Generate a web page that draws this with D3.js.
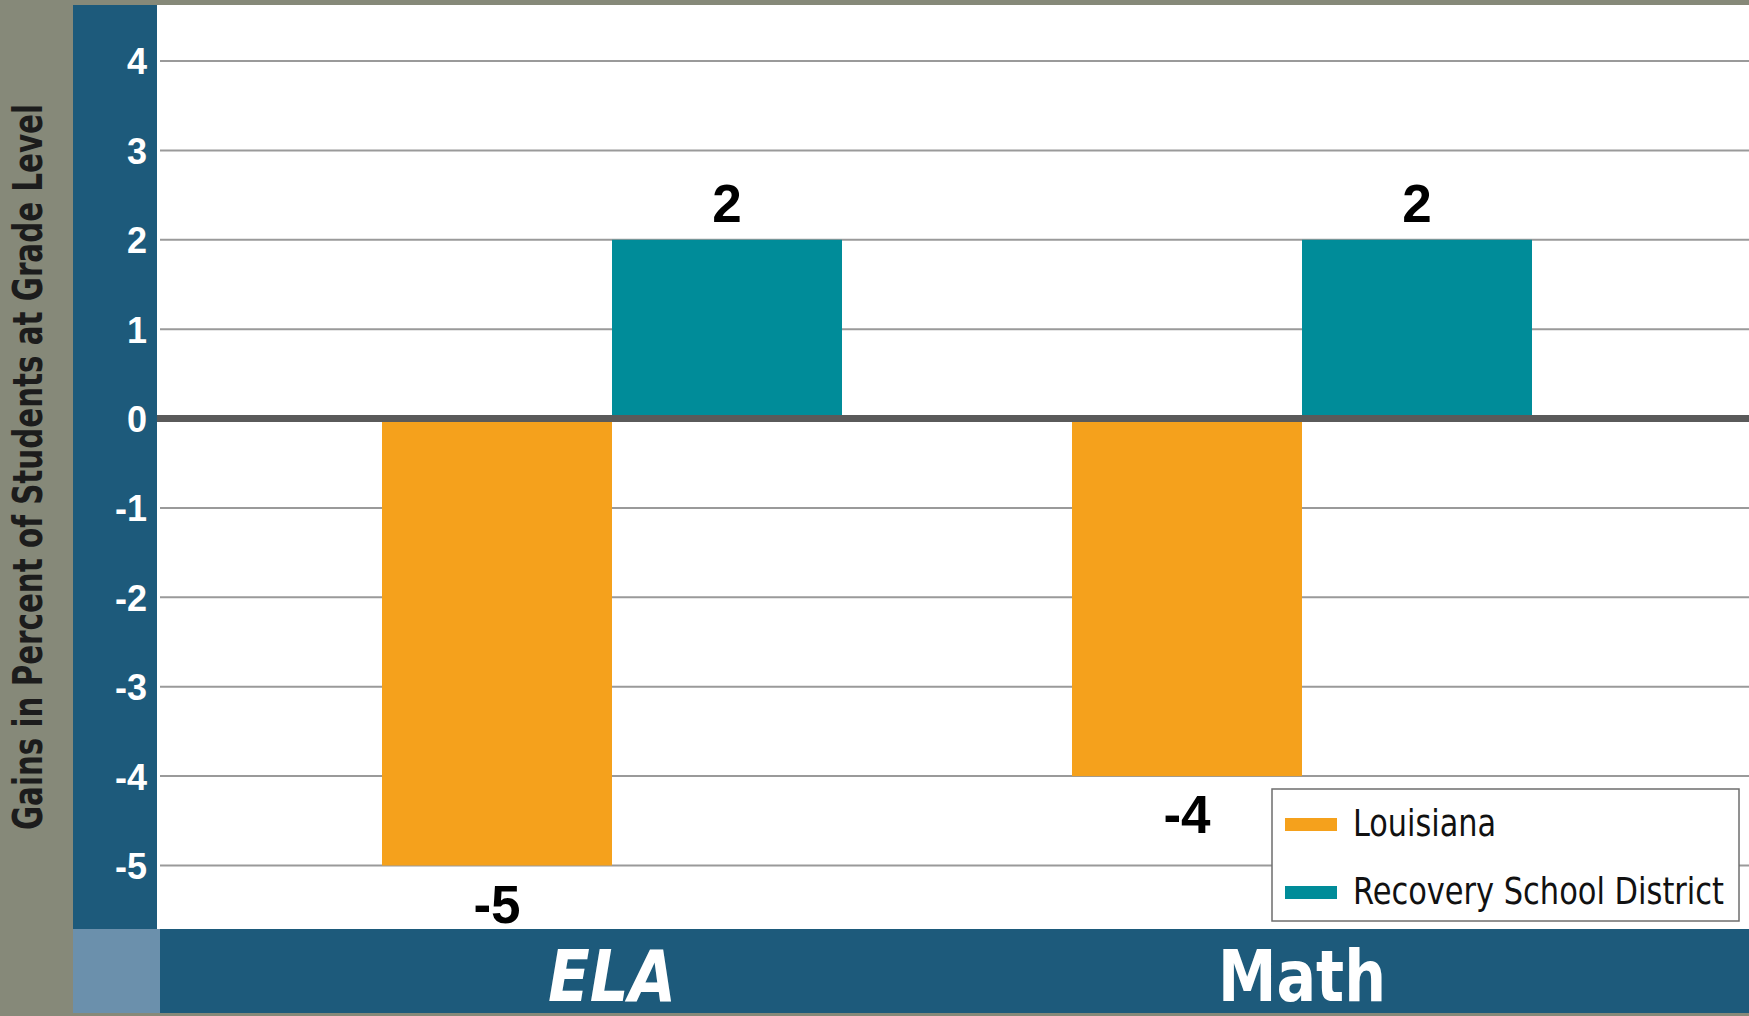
<!DOCTYPE html>
<html>
<head>
<meta charset="utf-8">
<script src="https://cdn.jsdelivr.net/npm/d3@7"></script>
<style>
  html, body { margin: 0; padding: 0; background: #868979; }
  svg { display: block; }
</style>
</head>
<body>
<div class="chart"></div>
<script>
var categories = ["ELA", "Math"]
var seriesNames = ["Louisiana", "Recovery School District"]
var louisiana = [-5, -4]
var rsd = [2, 2]
var yTicks = [-5, -4, -3, -2, -1, 0, 1, 2, 3, 4]
var colors = ["#f5a11c", "#008c99"]

var W = 1749, H = 1016
var condensed = "'Liberation Sans Narrow', 'Arial Narrow', 'DejaVu Sans Condensed', sans-serif"
var sans = "'Liberation Sans', Arial, sans-serif"

var svg = d3.select('.chart')
    .append('svg')
    .attr('width', W)
    .attr('height', H)

// background panels
svg.append('rect').attr('x', 0).attr('y', 0).attr('width', W).attr('height', H).attr('fill', '#868979')
svg.append('rect').attr('x', 157).attr('y', 5).attr('width', W - 157).attr('height', 924).attr('fill', '#ffffff')
svg.append('rect').attr('x', 73).attr('y', 5).attr('width', 84).attr('height', 924).attr('fill', '#1d5a7b')
svg.append('rect').attr('x', 73).attr('y', 929).attr('width', 87).attr('height', 84).attr('fill', '#6b90ac')
svg.append('rect').attr('x', 160).attr('y', 929).attr('width', W - 160).attr('height', 84).attr('fill', '#1d5a7b')

var y = d3.scaleLinear().domain([-5, 4]).range([865.5, 61])
var x = d3.scaleBand().domain(categories).range([267, 1647]).paddingInner(1 / 3).paddingOuter(1 / 6)
var xs = d3.scaleBand().domain(seriesNames).range([0, x.bandwidth()])

// gridlines
svg.append('g')
    .selectAll('line')
    .data(yTicks.filter(d => d !== 0))
    .enter()
    .append('line')
    .attr('x1', 160).attr('x2', W)
    .attr('y1', d => y(d)).attr('y2', d => y(d))
    .attr('stroke', '#9a9a9a')
    .attr('stroke-width', 2)

// y tick labels (plain hyphen for negatives, as in the original)
var yAxis = svg.append('g')
    .attr('transform', 'translate(147,0)')
    .call(d3.axisLeft(y).tickValues(yTicks).tickSize(0).tickPadding(0).tickFormat(d => String(d)))
yAxis.select('.domain').remove()
yAxis.selectAll('text')
    .attr('fill', '#ffffff')
    .attr('dy', '0.36em')
    .style('font-family', sans)
    .style('font-weight', 'bold')
    .style('font-size', '36px')

// bars
var rows = []
categories.forEach((c, i) => {
    rows.push({ cat: c, series: seriesNames[0], value: louisiana[i], color: colors[0] })
    rows.push({ cat: c, series: seriesNames[1], value: rsd[i], color: colors[1] })
})

var g = svg.append('g')
    .selectAll('g')
    .data(rows)
    .enter()
    .append('g')
    .attr('transform', d => 'translate(' + (x(d.cat) + xs(d.series)) + ',0)')

g.append('rect')
    .attr('x', 0)
    .attr('width', xs.bandwidth())
    .attr('y', d => y(Math.max(0, d.value)))
    .attr('height', d => Math.abs(y(d.value) - y(0)))
    .attr('fill', d => d.color)

g.append('text')
    .attr('x', xs.bandwidth() / 2)
    .attr('y', d => d.value >= 0 ? y(d.value) - 18 : y(d.value) + 57)
    .attr('text-anchor', 'middle')
    .style('font-family', sans)
    .style('font-weight', 'bold')
    .style('font-size', '53px')
    .attr('fill', '#000')
    .text(d => d.value)

// zero line
svg.append('line')
    .attr('x1', 157).attr('x2', W)
    .attr('y1', y(0)).attr('y2', y(0))
    .attr('stroke', '#5a5a5a')
    .attr('stroke-width', 7)

// category labels
svg.append('g')
    .selectAll('text')
    .data(categories)
    .enter()
    .append('text')
    .attr('x', d => x(d) + x.bandwidth() / 2)
    .attr('y', 1001)
    .attr('text-anchor', 'middle')
    .attr('fill', '#ffffff')
    .attr('textLength', d => d === 'ELA' ? 128 : 168)
    .attr('lengthAdjust', 'spacingAndGlyphs')
    .style('font-family', condensed)
    .style('font-weight', 'bold')
    .style('font-style', d => d === 'ELA' ? 'italic' : 'normal')
    .style('font-size', '72px')
    .text(d => d)

// y axis title
svg.append('text')
    .attr('transform', 'translate(42,467) rotate(-90)')
    .attr('text-anchor', 'middle')
    .attr('fill', '#1c1c1c')
    .attr('textLength', 726)
    .attr('lengthAdjust', 'spacingAndGlyphs')
    .style('font-family', condensed)
    .style('font-weight', 'bold')
    .style('font-size', '40px')
    .text('Gains in Percent of Students at Grade Level')

// legend
var legend = svg.append('g').attr('transform', 'translate(1272,789)')
legend.append('rect')
    .attr('width', 467).attr('height', 132)
    .attr('fill', '#ffffff')
    .attr('stroke', '#6e6e6e')
    .attr('stroke-width', 1.5)
var li = legend.selectAll('g')
    .data(seriesNames)
    .enter()
    .append('g')
    .attr('transform', (d, i) => 'translate(0,' + i * 68 + ')')
li.append('rect')
    .attr('x', 13).attr('y', 29)
    .attr('width', 52).attr('height', 13)
    .attr('fill', (d, i) => colors[i])
li.append('text')
    .attr('x', 81).attr('y', 47)
    .attr('fill', '#111')
    .attr('textLength', (d, i) => i === 1 ? 371 : 143)
    .attr('lengthAdjust', 'spacingAndGlyphs')
    .style('font-family', condensed)
    .style('font-size', '38px')
    .text(d => d)
</script>
</body>
</html>
